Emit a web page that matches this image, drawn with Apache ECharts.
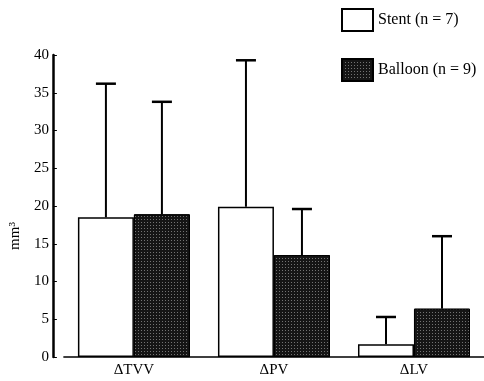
<!DOCTYPE html>
<html><head><meta charset="utf-8">
<script src="https://cdn.jsdelivr.net/npm/echarts@6/dist/echarts.min.js"></script>
<style>html,body{margin:0;padding:0;background:#fff}#c{width:484px;height:381px}</style>
</head><body><div id="c"></div>
<script>
const categories = ['ΔTVV', 'ΔPV', 'ΔLV'];
const stentMean = [18.5, 19.9, 1.7];
const stentUpper = [36.2, 39.3, 5.3];
const balloonMean = [18.9, 13.5, 6.4];
const balloonUpper = [33.8, 19.6, 16.0];
const yTicks = [0, 5, 10, 15, 20, 25, 30, 35, 40];

const BW = 56;
const serif = 'Liberation Serif';
function errSeries(upper, means, side) {
  return {
    type: 'custom',
    silent: true,
    z: 5,
    data: upper.map((u, i) => [i, means[i], u]),
    renderItem: function (params, api) {
      const c = api.value(0);
      const lo = api.coord([c, api.value(1)]);
      const hi = api.coord([c, api.value(2)]);
      const x = lo[0] + side * BW / 2;
      const cap = 10;
      return {
        type: 'group',
        children: [
          { type: 'line', shape: { x1: x, y1: lo[1], x2: x, y2: hi[1] }, style: { stroke: '#000', lineWidth: 2 } },
          { type: 'line', shape: { x1: x - cap, y1: hi[1], x2: x + cap, y2: hi[1] }, style: { stroke: '#000', lineWidth: 2.5 } }
        ]
      };
    }
  };
}
const chart = echarts.init(document.getElementById('c'));
chart.setOption({
  animation: false,
  grid: { left: 60, right: 0, top: 55, bottom: 24 },
  legend: {
    orient: 'vertical', left: 336, top: 3, itemWidth: 31, itemHeight: 22, itemGap: 26,
    icon: 'rect',
    textStyle: { fontFamily: serif, fontSize: 16, color: '#000' },
    data: ['Stent (n = 7)', 'Balloon (n = 9)']
  },
  xAxis: {
    type: 'category', data: categories,
    axisLine: { lineStyle: { color: '#000', width: 1.5 } },
    axisTick: { show: false },
    axisLabel: { fontFamily: serif, fontSize: 15, color: '#000', margin: 6 }
  },
  yAxis: {
    type: 'value', min: 0, max: 40, interval: 5, offset: 11,
    name: 'mm³', nameLocation: 'middle', nameGap: 25,
    nameTextStyle: { fontFamily: serif, fontSize: 15, color: '#000', padding: [0, 60, 0, 0] },
    axisLine: { show: true, lineStyle: { color: '#000', width: 2.5 } },
    axisTick: { show: true, inside: true, length: 4, lineStyle: { color: '#000' } },
    splitLine: { show: false },
    axisLabel: { fontFamily: serif, fontSize: 15, color: '#000', margin: 4,
      formatter: v => yTicks.includes(v) ? String(v) : '' }
  },
  series: [
    { name: 'Stent (n = 7)', type: 'bar', data: stentMean, barWidth: BW, barGap: '0%',
      itemStyle: { color: '#fff', borderColor: '#000', borderWidth: 1.5 } },
    { name: 'Balloon (n = 9)', type: 'bar', data: balloonMean, barWidth: BW,
      itemStyle: { color: '#151515', borderColor: '#000', borderWidth: 1,
        decal: { symbol: 'rect', symbolSize: 1, color: 'rgba(255,255,255,0.4)', dashArrayX: [1, 2], dashArrayY: [1, 2], rotation: 0 } } },
    errSeries(stentUpper, stentMean, -1),
    errSeries(balloonUpper, balloonMean, 1)
  ]
});
</script></body></html>
